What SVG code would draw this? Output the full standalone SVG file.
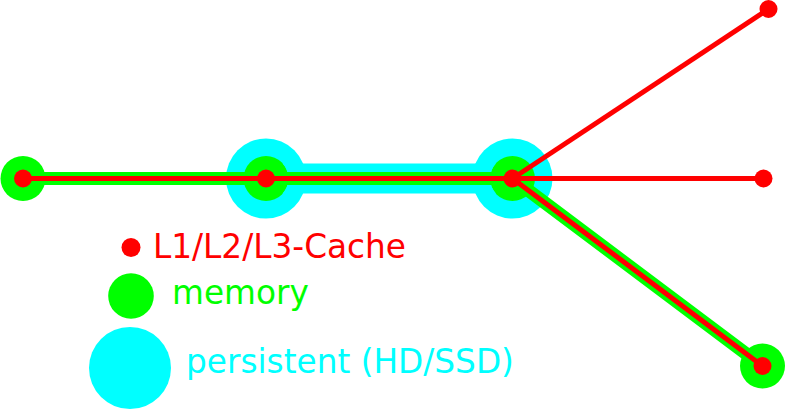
<svg xmlns="http://www.w3.org/2000/svg" width="786" height="409" viewBox="0 0 786 409">
<style>
.p{fill:#00ffff}
.m{fill:#00ff00}
.c{fill:#ff0000}
.gl{fill:none;stroke:#00ff00;stroke-width:13;stroke-linejoin:round}
.rl{fill:none;stroke:#ff0000;stroke-width:5;stroke-linejoin:round}
text{font-family:"DejaVu Sans",sans-serif;font-size:33.5px}
</style>
<rect width="786" height="409" fill="#ffffff"/>
<g id="node-a"><circle class="m" cx="23" cy="178.5" r="22.5"/></g>
<g id="node-b"><circle class="p" cx="266" cy="178.5" r="40"/><circle class="m" cx="266" cy="178.5" r="22.5"/></g>
<g id="node-c"><circle class="p" cx="512.5" cy="178.5" r="40"/><circle class="m" cx="512.5" cy="178.5" r="22.5"/></g>
<g id="node-f"><circle class="m" cx="762.5" cy="366" r="22.5"/></g>
<g id="connectors">
<path class="p" d="M282.6,163.5 L495.9,163.5 A22.5,22.5 0 0 0 495.9,193.5 L282.6,193.5 A22.5,22.5 0 0 0 282.6,163.5 Z"/>
<polyline class="gl" points="23,178.5 266,178.5 512.5,178.5 762.5,366"/>
<polyline class="rl" points="23,178.5 266,178.5 512.5,178.5"/>
<line class="rl" x1="512.5" y1="178.5" x2="768.5" y2="9"/>
<line class="rl" x1="512.5" y1="178.5" x2="763.5" y2="178.5"/>
<line class="rl" x1="512.5" y1="178.5" x2="762.5" y2="366"/>
</g>
<g id="cache-a"><circle class="c" cx="23" cy="178.5" r="9"/></g>
<g id="cache-b"><circle class="c" cx="266" cy="178.5" r="9"/></g>
<g id="cache-c"><circle class="c" cx="512.5" cy="178.5" r="9"/></g>
<g id="cache-d"><circle class="c" cx="768.5" cy="9" r="9"/></g>
<g id="cache-e"><circle class="c" cx="763.5" cy="178.5" r="9"/></g>
<g id="cache-f"><circle class="c" cx="762.5" cy="366" r="9"/></g>
<g id="legend">
<circle class="c" cx="131" cy="247.5" r="9.5"/>
<text class="c" transform="translate(153 258) scale(0.978 1)">L1/L2/L3-Cache</text>
<circle class="m" cx="131" cy="296" r="22.8"/>
<text class="m" transform="translate(172 304) scale(0.978 1)">memory</text>
<circle class="p" cx="130" cy="368" r="41"/>
<text class="p" transform="translate(186 373) scale(0.978 1)">persistent (HD/SSD)</text>
</g>
</svg>
